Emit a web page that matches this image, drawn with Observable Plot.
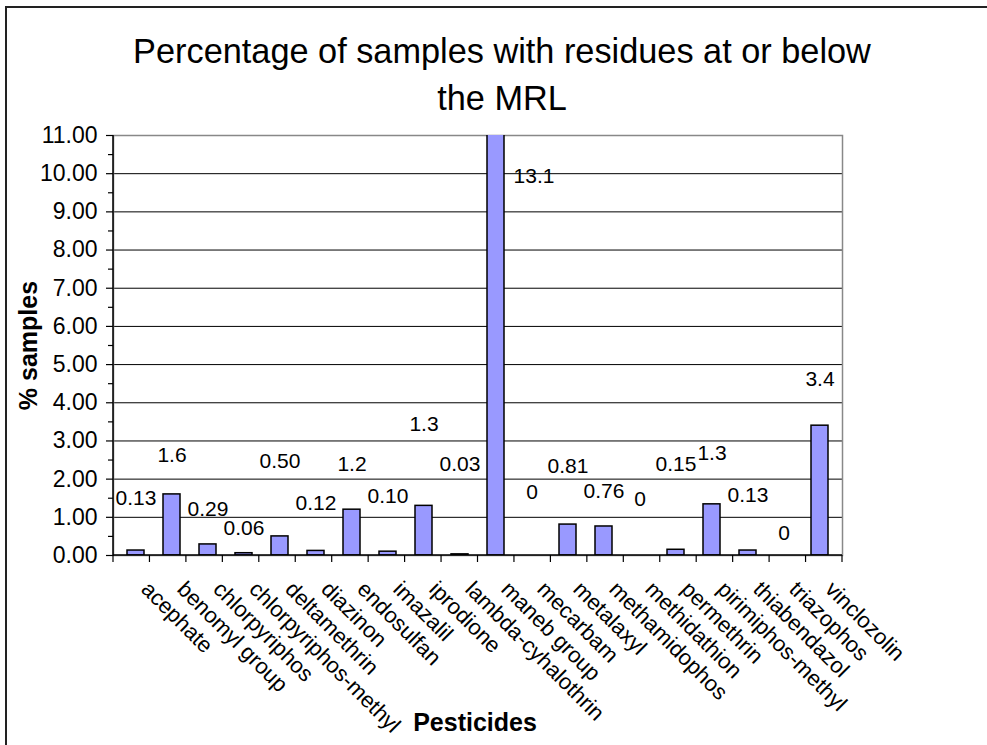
<!DOCTYPE html>
<html><head><meta charset="utf-8">
<script src="https://cdn.jsdelivr.net/npm/d3@7"></script>
<script src="https://cdn.jsdelivr.net/npm/@observablehq/plot@0.6"></script>
<style>
body{margin:0;background:#fff;}
#wrap{position:relative;width:987px;height:745px;overflow:hidden;font-family:"Liberation Sans",Arial,sans-serif;background:#fff;}
#frame{position:absolute;left:5px;top:6px;width:1100px;height:900px;border-left:2px solid #222;border-top:2px solid #222;}
#title{position:absolute;left:17px;top:28px;width:970px;text-align:center;font-size:34.3px;line-height:47px;color:#000;}
#chart{position:absolute;left:0;top:120px;}
</style></head>
<body>
<div id="wrap">
  <div id="frame"></div>
  <div id="title">Percentage of samples with residues at or below<br>the MRL</div>
  <div id="chart"></div>
</div>
<script>
const pesticides = ["acephate","benomyl group","chlorpyriphos","chlorpyriphos-methyl","deltamethrin","diazinon","endosulfan","imazalil","iprodione","lambda-cyhalothrin","maneb group","mecarbam","metalaxyl","methamidophos","methidathion","permethrin","pirimiphos-methyl","thiabendazol","triazophos","vinclozolin"];
const percentSamples = [0.13,1.6,0.29,0.06,0.50,0.12,1.2,0.10,1.3,0.03,13.1,0,0.81,0.76,0,0.15,1.34,0.13,0,3.4];
const valueLabels = ["0.13","1.6","0.29","0.06","0.50","0.12","1.2","0.10","1.3","0.03","13.1","0","0.81","0.76","0","0.15","1.3","0.13","0","3.4"];
const labelHeights = [1.49,2.62,1.20,0.71,2.46,1.36,2.40,1.54,3.43,2.38,9.92,1.65,2.33,1.68,1.47,2.38,2.67,1.57,0.58,4.61];
const yMajorTicks = [0,1,2,3,4,5,6,7,8,9,10,11];
const yMinorTicks = [0.5,1.5,2.5,3.5,4.5,5.5,6.5,7.5,8.5,9.5,10.5];
const gridTicks = [1,2,3,4,5,6,7,8,9,10];
const clippedCategory = "maneb group";

const data = pesticides.map((name, i) => ({name, value: percentSamples[i], label: valueLabels[i], labelY: labelHeights[i]}));

function axisLines(index, scales, values, dimensions) {
  const sx = scales.x, sy = scales.y;
  const [r0, r1] = sx.range();
  const n = sx.domain().length;
  const step = (r1 - r0) / n;
  const y0 = sy(0), yTop = sy(11);
  const g = d3.create("svg:g");
  for (let i = 0; i <= n; i++) {
    const xx = r0 + i * step;
    g.append("line").attr("x1", xx).attr("x2", xx).attr("y1", y0).attr("y2", y0 + 7).attr("stroke", "#000").attr("stroke-width", 1.2);
  }
  g.append("line").attr("x1", r0).attr("x2", r0).attr("y1", yTop).attr("y2", y0 + 1).attr("stroke", "#000").attr("stroke-width", 1.5);
  g.append("line").attr("x1", r0).attr("x2", r1).attr("y1", y0).attr("y2", y0).attr("stroke", "#000").attr("stroke-width", 1.5);
  return g.node();
}

const chart = Plot.plot({
  width: 987,
  height: 625,
  marginTop: 15,
  marginBottom: 190,
  marginLeft: 113,
  marginRight: 145,
  style: {fontFamily: "'Liberation Sans', Arial, sans-serif", color: "#000", background: "transparent"},
  x: {domain: pesticides, paddingInner: 0.54, paddingOuter: 0.27, axis: null},
  y: {domain: [0, 11], axis: null},
  marks: [
    Plot.gridY(gridTicks, {stroke: "#000", strokeOpacity: 1, strokeWidth: 1}),
    Plot.frame({stroke: "#888", strokeWidth: 1.5}),
    Plot.axisY({ticks: yMajorTicks, tickFormat: d => d.toFixed(2), tickSize: 7, tickPadding: 9, fontSize: 23, label: null, stroke: "#000", strokeWidth: 1.2}),
    Plot.axisY({ticks: yMinorTicks, tickFormat: () => "", tickSize: 5, label: null, stroke: "#000", strokeWidth: 1.2}),
    Plot.barY(data, {x: "name", y: "value", fill: "#9999ff", stroke: "#000", strokeWidth: 1.5, clip: true}),
    axisLines,
    Plot.text(data, {filter: d => d.name !== clippedCategory, x: "name", y: "labelY", text: "label", fontSize: 21, lineAnchor: "middle", fill: "#000"}),
    Plot.text(data, {filter: d => d.name === clippedCategory, x: "name", y: "labelY", text: "label", fontSize: 21, lineAnchor: "middle", dx: 38, fill: "#000"}),
    Plot.text(pesticides, {x: d => d, frameAnchor: "bottom", dy: 35, dx: 4, rotate: 45, textAnchor: "start", lineAnchor: "bottom", fontSize: 22, fill: "#000"}),
    Plot.text(["Pesticides"], {frameAnchor: "bottom", dy: 175, dx: -3, textAnchor: "middle", lineAnchor: "bottom", fontSize: 25, fontWeight: "bold", fill: "#000"}),
    Plot.text(["% samples"], {frameAnchor: "left", dx: -85, rotate: -90, textAnchor: "middle", lineAnchor: "middle", fontSize: 25, fontWeight: "bold", fill: "#000"})
  ]
});
document.getElementById("chart").appendChild(chart);
</script>
</body></html>
